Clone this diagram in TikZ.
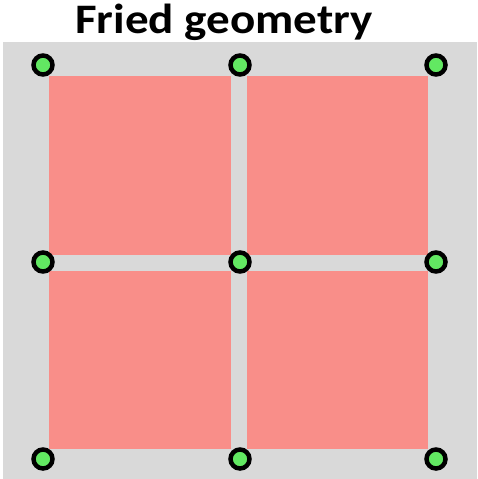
\documentclass[tikz,border=0pt]{standalone}
\usepackage{fontspec}
\setmainfont{Carlito}
\usepackage{xcolor}
\usepackage{tikz}
\usetikzlibrary{positioning}

\definecolor{bggray}{RGB}{217,217,217}
\definecolor{cellred}{RGB}{249,142,137}
\definecolor{dotgreen}{RGB}{98,232,98}

\begin{document}
\begin{tikzpicture}[x=1pt, y=-1pt,
  cell/.style={fill=cellred},
  dot/.style={circle, draw=black, fill=dotgreen, line width=4.5pt, minimum size=19pt, inner sep=0pt}]
\useasboundingbox (0,0) rectangle (477,479);
% Background
\fill[bggray] (3,42) rectangle (477,479);

% Title
\node[anchor=base, xscale=1.12, font=\fontsize{42}{46}\bfseries\selectfont] (title) at (224,33) {Fried geometry};

% Subapertures
\foreach \i/\xa/\xb in {0/49/231, 1/247/428} {
  \foreach \j/\ya/\yb in {0/76/255, 1/271/449} {
    \fill[cell] (\xa,\ya) rectangle (\xb,\yb);
  }
}

% Actuators
\foreach \i/\x in {0/43, 1/240, 2/436} {
  \foreach \j/\y in {0/65, 1/262, 2/459} {
    \node[dot] (p\i\j) at (\x,\y) {};
  }
}
\end{tikzpicture}
\end{document}
